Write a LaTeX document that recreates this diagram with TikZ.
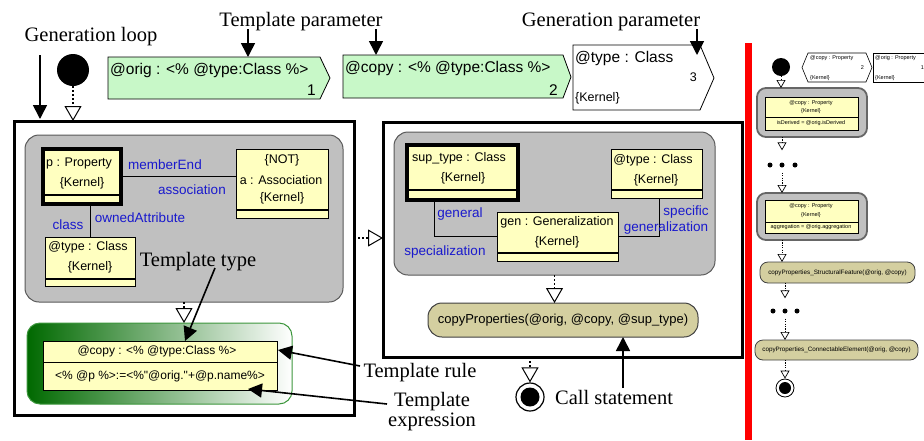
\documentclass[tikz,border=0pt]{standalone}
\usepackage{fontspec}
\setmainfont{Liberation Serif}
\newfontfamily\umlf{Liberation Sans}
\usetikzlibrary{arrows.meta}
\definecolor{umlyellow}{RGB}{255,255,192}
\definecolor{paramgreen}{RGB}{200,248,200}
\definecolor{regiongray}{RGB}{192,192,192}
\definecolor{callolive}{RGB}{212,207,160}
\definecolor{roleblue}{RGB}{25,25,205}
\definecolor{dkgreen}{RGB}{0,105,0}
\definecolor{brdgreen}{RGB}{60,150,60}
\begin{document}
\begin{tikzpicture}[x=1pt,y=-1pt,
 notetxt/.style={font=\fontsize{20.5}{22}\selectfont, inner sep=0pt},
 partxt/.style={font=\umlf\fontsize{15.5}{17}\selectfont, inner sep=0pt},
 objtxt/.style={font=\umlf\fontsize{12.5}{14}\selectfont, inner sep=0pt},
 roletxt/.style={font=\umlf\fontsize{13.5}{15}\selectfont, text=roleblue, inner sep=0pt},
 minitxt/.style={font=\umlf\fontsize{5.5}{6}\selectfont, inner sep=0pt},
 nwbox/.style={anchor=north west, inner sep=0pt, outer sep=0pt},
 objbox/.style={nwbox, draw, fill=umlyellow, line width=0.8pt},
 thickobj/.style={objbox, line width=3.5pt},
 divline/.style={line width=1.8pt},
 framebox/.style={nwbox, draw, line width=3pt},
 regionbox/.style={nwbox, draw=black!65, fill=regiongray, rounded corners=14pt, line width=1pt},
 mregionbox/.style={nwbox, draw=black!60, fill=regiongray, rounded corners=9pt, line width=1.8pt},
 callbox/.style={nwbox, draw=black!75, fill=callolive, rounded corners=14pt, line width=1pt},
 mcallbox/.style={nwbox, draw=black!75, fill=callolive, rounded corners=8pt, line width=0.8pt, font=\umlf\fontsize{6.3}{7}\selectfont},
 parshape/.style={draw, line width=0.8pt},
 linkline/.style={line width=0.8pt},
 flow/.style={line width=1.5pt, dash pattern=on 2pt off 2pt, -{Triangle[open, length=15pt, width=17pt, line width=1pt]}},
 mflow/.style={line width=0.9pt, dash pattern=on 1.2pt off 1.2pt, -{Triangle[open, length=8pt, width=9pt, line width=0.7pt]}},
 annot/.style={line width=1.6pt, -{Triangle[length=14pt, width=14pt]}},
 mdot/.style={circle, fill, inner sep=0pt, minimum size=5pt},
]
\useasboundingbox (0,0) rectangle (924,440);

% ---------- top: initial node and parameters ----------
\node[circle, fill, minimum size=32pt, inner sep=0pt] (init) at (73,70) {};

\draw[parshape, fill=paramgreen] (108,57) -- (320,57) -- (330,78) -- (320,99) -- (108,99) -- cycle;
\node[partxt, anchor=west] (p1t) at (110,70) {@orig : <\% @type:Class \%>};
\node[partxt, anchor=east] (p1n) at (316,90) {1};
\coordinate (p1top) at (248,57);

\draw[parshape, fill=paramgreen] (343,55) -- (563,55) -- (571,77) -- (563,98) -- (343,98) -- cycle;
\node[partxt, anchor=west] (p2t) at (345,68) {@copy : <\% @type:Class \%>};
\node[partxt, anchor=east] (p2n) at (558,90) {2};
\coordinate (p2top) at (376,55);

\draw[parshape, fill=white] (573,45) -- (700,45) -- (714,78) -- (700,110) -- (573,110) -- cycle;
\node[partxt, anchor=west] (p3t) at (575,58) {@type : Class};
\node[objtxt, anchor=east] (p3n) at (697,77) {3};
\node[objtxt, anchor=west] (p3k) at (575,98) {\{Kernel\}};
\coordinate (p3top) at (697,55);

% ---------- notes on top ----------
\node[notetxt] (lloop) at (91,37) {Generation loop};
\node[notetxt] (ltp) at (301,22) {Template parameter};
\node[notetxt] (lgp) at (611,22) {Generation parameter};
\coordinate (loopA) at (40,55);
\coordinate (tpA) at (248,29);
\coordinate (tpB) at (376,29);
\coordinate (gpA) at (697,29);

% ---------- left frame ----------
\node[framebox, minimum width=340pt, minimum height=294pt] (frameL) at (14,121) {};
\node[regionbox, minimum width=318pt, minimum height=167pt] (regionL) at (25,135) {};

\node[thickobj, minimum width=78pt, minimum height=55pt] (pprop) at (43,149) {};
\draw[divline] ([yshift=-46pt]pprop.north west) -- ([yshift=-46pt]pprop.north east);
\node[objtxt, anchor=west] (pprop1) at (46,163) {p : Property};
\node[objtxt] (pprop2) at (82,183) {\{Kernel\}};

\node[objbox, minimum width=92pt, minimum height=69pt] (assoc) at (236,149) {};
\draw[divline] ([yshift=-61pt]assoc.north west) -- ([yshift=-61pt]assoc.north east);
\node[objtxt] (assoc1) at (282,160) {\{NOT\}};
\node[objtxt] (assoc2) at (281,180) {a : Association};
\node[objtxt] (assoc3) at (282,198) {\{Kernel\}};

\node[objbox, minimum width=90pt, minimum height=49pt] (typeL) at (45,237) {};
\draw[divline] ([yshift=-42pt]typeL.north west) -- ([yshift=-42pt]typeL.north east);
\node[objtxt] (typeL1) at (88,247) {@type : Class};
\node[objtxt] (typeL2) at (90,267) {\{Kernel\}};

\draw[linkline] (pprop.east) -- (pprop.east -| assoc.west);
\draw[linkline] ([xshift=47pt]pprop.south west) -- ([xshift=47pt]pprop.south west |- typeL.north);
\node[roletxt] (r1) at (165,165) {memberEnd};
\node[roletxt] (r2) at (192,190) {association};
\node[roletxt] (r3) at (68,225) {class};
\node[roletxt] (r4) at (140,218) {ownedAttribute};

\node[nwbox, draw=brdgreen, line width=1pt, rounded corners=13pt, left color=dkgreen, right color=white, minimum width=265pt, minimum height=81pt] (tplreg) at (27,323) {};
\node[objbox, minimum width=234pt, minimum height=49pt] (trule) at (43,341) {};
\draw[linkline] ([yshift=-21pt]trule.north west) -- ([yshift=-21pt]trule.north east);
\node[objtxt, font=\umlf\fontsize{12}{14}\selectfont] (trule1) at (157,351) {@copy : <\% @type:Class \%>};
\node[objtxt, font=\umlf\fontsize{12}{14}\selectfont] (trule2) at (160,376) {<\% @p \%>:=<\%"@orig."+@p.name\%>};

\draw[flow] (init) -- (init |- frameL.north);
\draw[flow] (regionL.south) -- (regionL.south |- tplreg.north);

% ---------- right frame ----------
\node[framebox, minimum width=359pt, minimum height=235pt] (frameR) at (383,122) {};
\node[regionbox, minimum width=321pt, minimum height=143pt] (regionR) at (394,132) {};

\node[thickobj, minimum width=111pt, minimum height=55pt] (suptype) at (407,145) {};
\draw[divline] ([yshift=-45pt]suptype.north west) -- ([yshift=-45pt]suptype.north east);
\node[objtxt] (suptype1) at (459,158) {sup\_type : Class};
\node[objtxt] (suptype2) at (463,178) {\{Kernel\}};

\node[objbox, minimum width=91pt, minimum height=49pt] (typeR) at (611,149) {};
\draw[divline] ([yshift=-41pt]typeR.north west) -- ([yshift=-41pt]typeR.north east);
\node[objtxt] (typeR1) at (653,160) {@type : Class};
\node[objtxt] (typeR2) at (656,180) {\{Kernel\}};

\node[objbox, minimum width=121pt, minimum height=49pt] (gen) at (497,212) {};
\draw[divline] ([yshift=-41pt]gen.north west) -- ([yshift=-41pt]gen.north east);
\node[objtxt] (gen1) at (557,222) {gen : Generalization};
\node[objtxt] (gen2) at (557,242) {\{Kernel\}};

\draw[linkline] ([xshift=27pt]suptype.south west) |- (gen.west);
\draw[linkline] (gen.east) -| ([xshift=48pt]typeR.south west);
\node[roletxt] (r5) at (460,214) {general};
\node[roletxt] (r6) at (445,252) {specialization};
\node[roletxt] (r7) at (686,212) {specific};
\node[roletxt] (r8) at (666,228) {generalization};

\node[callbox, minimum width=270pt, minimum height=34pt, font=\umlf\fontsize{13}{15}\selectfont] (call) at (428,303) {copyProperties(@orig, @copy, @sup\_type)};
\draw[flow] (regionR.south) -- (regionR.south |- call.north);

\draw[flow] ([yshift=30pt]frameL.east) -- ([yshift=30pt]frameL.east -| frameR.west);

\node[circle, draw, line width=1.2pt, minimum size=28pt, inner sep=0pt] (final) at (530,397) {};
\node[circle, fill, minimum size=19pt, inner sep=0pt] (finaldot) at (final) {};
\draw[flow] (final |- frameR.south) -- (final);

% ---------- annotations ----------
\draw[annot] (loopA) -- ([yshift=2pt]loopA |- frameL.north);
\draw[annot] (tpA) -- (p1top);
\draw[annot] (tpB) -- (p2top);
\draw[annot] (gpA) -- (p3top);

\node[notetxt] (ltype) at (198,262) {Template type};
\coordinate (ttA) at (215,268);
\coordinate (ttB) at (185,341);
\draw[annot] (ttA) -- (ttB);

\node[notetxt] (lrule) at (420,373) {Template rule};
\coordinate (ruleA) at (360,366);
\coordinate (ruleB) at (278,350);
\draw[annot] (ruleA) -- (ruleB);

\node[notetxt, align=center] (lexpr) at (432,412) {Template\\[-2pt]expression};
\coordinate (exprA) at (387,404);
\coordinate (exprB) at (248,389);
\draw[annot] (exprA) -- (exprB);

\node[notetxt] (lcall) at (614,397) {Call statement};
\coordinate (callA) at (623,388);
\draw[annot] (callA) -- (callA |- call.south);

% ---------- separator ----------
\draw[red, line width=6.5pt] (748.5,43) -- (748.5,440);

% ---------- mini diagram ----------
\node[circle, fill, minimum size=18pt, inner sep=0pt] (minit) at (781,67) {};

\draw[parshape, line width=0.6pt, fill=white] (808,53) -- (866,53) -- (872,67.5) -- (866,82) -- (808,82) -- (802,67.5) -- cycle;
\node[minitxt, anchor=west] (mp1) at (810,58) {@copy : Property};
\node[minitxt, anchor=east] (mp1n) at (864,68) {2};
\node[minitxt, anchor=west] (mp1k) at (810,78) {\{Kernel\}};
\draw[parshape, line width=0.6pt] (930,53) -- (873,53) -- (873,82) -- (930,82);
\node[minitxt, anchor=west] (mp2) at (875,58) {@orig : Property};
\node[minitxt, anchor=east] (mp2n) at (924,68) {1};
\node[minitxt, anchor=west] (mp2k) at (875,78) {\{Kernel\}};

\node[mregionbox, minimum width=110pt, minimum height=49pt] (mreg1) at (757,88) {};
\node[objbox, line width=0.6pt, minimum width=93pt, minimum height=33pt] (myel1) at (765,97) {};
\draw[line width=0.8pt] ([yshift=-20pt]myel1.north west) -- ([yshift=-20pt]myel1.north east);
\node[minitxt] (my1a) at (811,103) {@copy : Property};
\node[minitxt] (my1b) at (811,111) {\{Kernel\}};
\node[minitxt] (my1c) at (811,123.5) {isDerived = @orig.isDerived};
\draw[mflow] (minit) -- (minit |- mreg1.north);

\node[mdot] (md1a) at (770,165) {};
\node[mdot] (md1b) at (782,165) {};
\node[mdot] (md1c) at (795,165) {};
\draw[mflow] (mreg1.south -| md1b) -- ([yshift=12pt]md1b.north);

\node[mregionbox, minimum width=110pt, minimum height=47pt] (mreg2) at (757,193) {};
\node[objbox, line width=0.6pt, minimum width=93pt, minimum height=33pt] (myel2) at (765,200) {};
\draw[line width=0.8pt] ([yshift=-22pt]myel2.north west) -- ([yshift=-22pt]myel2.north east);
\node[minitxt] (my2a) at (811,206) {@copy : Property};
\node[minitxt] (my2b) at (811,215) {\{Kernel\}};
\node[minitxt] (my2c) at (811,227.5) {aggregation = @orig.aggregation};
\draw[mflow] ([yshift=-5pt]md1b.south) -- (md1b |- mreg2.north);

\node[mcallbox, minimum width=155pt, minimum height=21pt] (mcall1) at (760,262) {copyProperties\_StructuralFeature(@orig, @copy)};
\draw[mflow] (mreg2.south -| md1b) -- (md1b |- mcall1.north);

\node[mdot] (md2a) at (773,311) {};
\node[mdot] (md2b) at (785,311) {};
\node[mdot] (md2c) at (797,311) {};
\draw[mflow] (mcall1.south -| md2b) -- ([yshift=10pt]md2b.north);

\node[mcallbox, minimum width=163pt, minimum height=20pt] (mcall2) at (755,340) {copyProperties\_ConnectableElement(@orig, @copy)};
\draw[mflow] ([yshift=-5pt]md2b.south) -- (md2b |- mcall2.north);

\node[circle, draw, line width=0.8pt, minimum size=18pt, inner sep=0pt] (mfinal) at (785,388) {};
\node[circle, fill, minimum size=12pt, inner sep=0pt] (mfinaldot) at (mfinal) {};
\draw[mflow] (mcall2.south -| mfinal) -- (mfinal);
\end{tikzpicture}
\end{document}
